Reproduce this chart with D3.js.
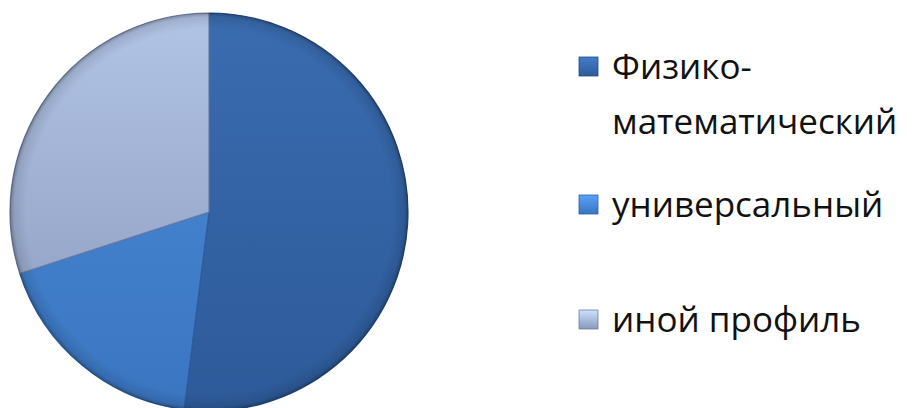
<!DOCTYPE html>
<html>
<head>
<meta charset="utf-8">
<script src="https://cdn.jsdelivr.net/npm/d3@7"></script>
<style>
  html, body { margin: 0; padding: 0; background: #fff; }
  svg { display: block; }
  .legend text { font-family: "Open Sans", sans-serif; font-size: 35px; fill: #111; }
</style>
</head>
<body>
<div id="chart"></div>
<script>
// данные диаграммы
const categories = ["Физико-математический", "универсальный", "иной профиль"];
const values = [52, 18, 30];
const legendLines = [["Физико-", "математический"], ["универсальный"], ["иной профиль"]];

const W = 918, H = 408;
const cx = 209, cy = 212, r = 199;

// цвета секторов: верх / низ градиента
const fills = [
  { top: "#3a6cb0", bottom: "#2d5a99", rim: "#234a80" },
  { top: "#4c8cd8", bottom: "#3a75c0", rim: "#2d5f9f" },
  { top: "#b2c4e6", bottom: "#8898bb", rim: "#6f7ea0" }
];

const svg = d3.select("#chart")
  .append("svg")
  .attr("width", W)
  .attr("height", H);

const defs = svg.append("defs");

fills.forEach((f, i) => {
  const lg = defs.append("linearGradient")
    .attr("id", "lg" + i)
    .attr("gradientUnits", "userSpaceOnUse")
    .attr("x1", 0).attr("y1", -r)
    .attr("x2", 0).attr("y2", r);
  lg.append("stop").attr("offset", "0%").attr("stop-color", f.top);
  lg.append("stop").attr("offset", "100%").attr("stop-color", f.bottom);

  // квадратики легенды
  const sg = defs.append("linearGradient")
    .attr("id", "sg" + i)
    .attr("x1", 0).attr("y1", 0).attr("x2", 0).attr("y2", 1);
  sg.append("stop").attr("offset", "0%").attr("stop-color", d3.color(f.top).brighter(0.4));
  sg.append("stop").attr("offset", "100%").attr("stop-color", f.bottom);
});

// затемнение по краю (эффект фаски)
const rim = defs.append("radialGradient")
  .attr("id", "rim")
  .attr("gradientUnits", "userSpaceOnUse")
  .attr("cx", 0).attr("cy", 0).attr("r", r);
rim.append("stop").attr("offset", "92%").attr("stop-color", "#000").attr("stop-opacity", 0);
rim.append("stop").attr("offset", "98%").attr("stop-color", "#000").attr("stop-opacity", 0.1);
rim.append("stop").attr("offset", "100%").attr("stop-color", "#000").attr("stop-opacity", 0.3);

const pie = d3.pie().sort(null).value(d => d);
const arcs = pie(values);
const arc = d3.arc().innerRadius(0).outerRadius(r);

const g = svg.append("g").attr("transform", `translate(${cx},${cy})`);

g.selectAll("path.slice")
  .data(arcs)
  .enter()
  .append("path")
  .attr("class", "slice")
  .attr("d", arc)
  .attr("fill", (d, i) => `url(#lg${i})`)
  .attr("stroke", (d, i) => fills[i].rim)
  .attr("stroke-width", 1.2)
  .attr("stroke-linejoin", "round");

g.selectAll("path.rim")
  .data(arcs)
  .enter()
  .append("path")
  .attr("class", "rim")
  .attr("d", arc)
  .attr("fill", "url(#rim)");

// легенда
const legendY = [67, 205, 320];
const legend = svg.append("g").attr("class", "legend");

legendLines.forEach((lines, i) => {
  const row = legend.append("g").attr("transform", `translate(579,${legendY[i]})`);
  row.append("rect")
    .attr("x", 0).attr("y", -10)
    .attr("width", 19).attr("height", 19)
    .attr("fill", `url(#sg${i})`)
    .attr("stroke", fills[i].rim)
    .attr("stroke-width", 0.8);
  const t = row.append("text").attr("y", 12);
  lines.forEach((ln, j) => {
    t.append("tspan").attr("x", 33).attr("dy", j === 0 ? 0 : 55).text(ln);
  });
});
</script>
</body>
</html>
